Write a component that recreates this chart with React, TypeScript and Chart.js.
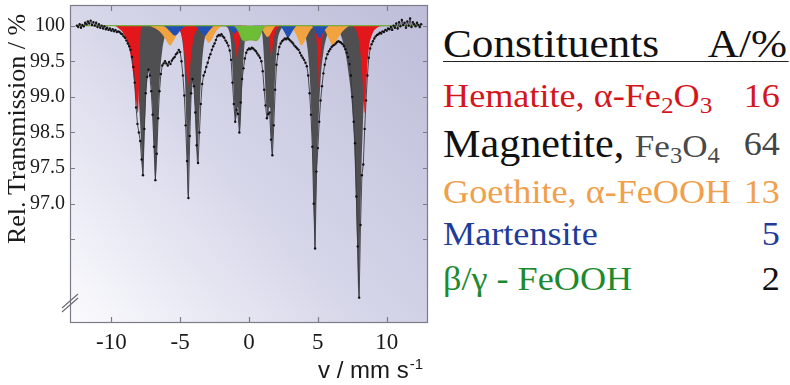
import React, { useEffect, useRef } from "react";
import { Chart, registerables } from "chart.js";

Chart.register(...registerables);

// ---------- axis ticks ----------
const velocityTicks = [-10, -5, 0, 5, 10];
const transmissionTickValues = [100, 99.5, 99, 98.5, 98, 97.5, 97];
const transmissionTickLabels = ["100", "99.5", "99.0", "98.5", "97.5", "97.0", ""];

// ---------- measured spectrum [v (mm/s), rel. transmission (%)] ----------
const measured: [number, number][] = [
  [-12.5,100.00],[-12.4,99.98],[-12.3,100.02],[-12.2,99.97],[-12.1,100.01],[-12.0,99.99],[-11.9,100.04],[-11.8,100.02],[-11.7,100.06],[-11.6,100.03],[-11.5,100.07],[-11.4,100.01],[-11.3,100.05],[-11.2,100.00],[-11.1,100.04],[-11.0,99.98],[-10.9,100.02],[-10.8,99.97],[-10.7,100.00],[-10.6,99.96],[-10.5,99.99],[-10.4,99.95],[-10.3,99.97],[-10.2,99.94],[-10.1,99.96],[-10.0,99.93],[-9.9,99.95],[-9.8,99.92],[-9.7,99.94],[-9.6,99.91],[-9.5,99.92],
  [-9.4,99.91],[-9.3,99.89],[-9.2,99.88],[-9.1,99.85],[-9.0,99.83],[-8.9,99.79],[-8.8,99.75],[-8.7,99.71],[-8.6,99.66],[-8.5,99.56],[-8.4,99.42],[-8.3,99.20],[-8.2,98.85],[-8.1,98.62],[-8.0,98.50],[-7.9,98.38],[-7.8,98.12],[-7.7,97.90],[-7.6,98.55],[-7.5,99.05],[-7.4,99.28],[-7.3,99.38],[-7.2,99.30],[-7.1,99.08],[-7.0,98.75],[-6.9,98.30],[-6.8,97.83],[-6.7,98.20],[-6.6,98.70],[-6.5,99.08],[-6.4,99.32],[-6.3,99.44],[-6.2,99.47],
  [-6.1,99.50],[-6.0,99.47],[-5.9,99.44],[-5.8,99.49],[-5.7,99.46],[-5.6,99.51],[-5.5,99.54],[-5.4,99.56],[-5.3,99.60],[-5.2,99.62],[-5.1,99.66],[-5.0,99.63],[-4.9,99.50],[-4.8,99.30],
  [-4.7,99.02],[-4.6,98.60],[-4.5,98.10],[-4.4,97.58],[-4.3,98.45],[-4.2,99.05],[-4.1,99.25],[-4.0,99.15],[-3.9,98.78],[-3.8,98.32],[-3.7,98.07],[-3.6,98.50],[-3.5,98.90],[-3.4,99.18],[-3.3,99.30],
  [-3.2,99.35],[-3.1,99.42],[-3.0,99.48],[-2.9,99.55],[-2.8,99.60],[-2.7,99.66],[-2.6,99.71],[-2.5,99.75],[-2.4,99.80],[-2.3,99.85],[-2.2,99.87],[-2.1,99.86],[-2.0,99.88],[-1.9,99.85],[-1.8,99.83],[-1.7,99.79],[-1.6,99.76],[-1.5,99.72],[-1.4,99.65],
  [-1.3,99.52],[-1.2,99.20],[-1.1,98.90],[-1.0,98.65],[-0.9,98.82],[-0.8,98.76],[-0.7,98.50],[-0.6,98.92],[-0.5,99.25],[-0.4,99.40],[-0.3,99.54],[-0.2,99.62],[-0.1,99.66],[0.0,99.68],
  [0.1,99.67],[0.2,99.69],[0.3,99.68],[0.4,99.66],[0.5,99.64],[0.6,99.61],[0.7,99.58],[0.8,99.55],[0.9,99.50],[1.0,99.36],[1.1,99.10],[1.2,98.88],[1.3,98.70],[1.4,98.76],[1.5,98.78],[1.6,98.40],[1.7,98.18],[1.8,98.60],[1.9,99.10],[2.0,99.45],
  [2.1,99.60],[2.2,99.70],[2.3,99.75],[2.4,99.78],[2.5,99.80],[2.6,99.82],[2.7,99.81],[2.8,99.83],[2.9,99.81],[3.0,99.79],[3.1,99.77],[3.2,99.75],[3.3,99.72],[3.4,99.70],[3.5,99.68],[3.6,99.66],[3.7,99.62],[3.8,99.58],[3.9,99.55],[4.0,99.52],
  [4.1,99.48],[4.2,99.43],[4.3,99.30],[4.4,99.05],[4.5,98.75],[4.6,98.30],[4.7,97.50],[4.8,96.87],[4.9,97.95],[5.0,98.28],[5.1,98.65],[5.2,98.95],[5.3,99.15],[5.4,99.33],[5.5,99.45],[5.6,99.54],[5.7,99.60],[5.8,99.64],[5.9,99.67],[6.0,99.70],
  [6.1,99.72],[6.2,99.73],[6.3,99.75],[6.4,99.77],[6.5,99.78],[6.6,99.77],[6.7,99.76],[6.8,99.74],[6.9,99.71],[7.0,99.67],[7.1,99.62],[7.2,99.56],[7.3,99.46],[7.4,99.30],[7.5,99.00],[7.6,98.65],[7.7,98.35],[7.8,97.60],[7.9,96.90],[8.0,96.18],
  [8.1,97.20],[8.2,97.90],[8.3,98.05],[8.4,98.55],[8.5,98.95],[8.6,99.30],[8.7,99.55],[8.8,99.68],[8.9,99.74],[9.0,99.78],[9.1,99.82],[9.2,99.85],[9.3,99.87],
  [9.4,99.88],[9.5,99.90],[9.6,99.89],[9.7,99.92],[9.8,99.91],[9.9,99.94],[10.0,99.93],[10.1,99.96],[10.2,99.95],[10.3,99.98],[10.4,99.94],[10.5,100.00],[10.6,99.97],[10.7,100.03],[10.8,99.96],[10.9,100.05],[11.0,99.99],[11.1,100.08],[11.2,100.01],[11.3,100.04],[11.4,99.97],[11.5,100.06],[11.6,100.00],[11.7,100.10],[11.8,99.98],[11.9,100.05],[12.0,100.02],[12.1,99.99],[12.2,100.04],[12.3,100.01],[12.4,99.98],[12.5,100.02],
];

// ---------- sub-spectra ----------
const magnetite: [number, number][] = [
  [-12.5,100],[-9.0,100],[-8.7,99.97],[-8.45,99.85],[-8.25,99.6],[-8.05,99.15],[-7.9,98.6],[-7.78,98.1],[-7.71,97.9],[-7.62,98.3],[-7.52,98.85],[-7.4,99.25],[-7.27,99.38],[-7.13,99.22],[-7.0,98.8],[-6.88,98.2],[-6.79,97.83],[-6.7,98.2],[-6.58,98.85],[-6.45,99.35],[-6.3,99.65],[-6.1,99.85],[-5.8,99.95],[-5.4,99.98],
  [-5.1,99.95],[-4.85,99.8],[-4.68,99.4],[-4.55,98.6],[-4.44,97.58],[-4.33,98.4],[-4.2,99.05],[-4.07,99.22],[-3.93,98.9],[-3.83,98.4],[-3.76,98.07],[-3.68,98.4],[-3.56,98.95],[-3.42,99.45],[-3.25,99.78],[-3.0,99.93],[-2.6,99.98],
  [-1.8,99.99],[-1.45,99.93],[-1.3,99.75],[-1.17,99.3],[-1.05,98.85],[-0.97,98.65],[-0.88,98.82],[-0.8,98.85],[-0.72,98.62],[-0.66,98.5],[-0.59,98.7],[-0.5,99.15],[-0.4,99.55],[-0.28,99.82],[-0.1,99.95],[0.3,99.99],
  [0.8,99.97],[0.98,99.85],[1.1,99.5],[1.22,99.0],[1.3,98.8],[1.38,98.7],[1.46,98.85],[1.53,98.85],[1.6,98.45],[1.67,98.18],[1.74,98.45],[1.83,98.95],[1.93,99.45],[2.05,99.75],[2.25,99.92],[2.7,99.99],
  [3.6,99.98],[3.95,99.92],[4.2,99.75],[4.38,99.4],[4.52,98.8],[4.63,98.1],[4.72,97.3],[4.78,96.87],[4.85,97.35],[4.95,98.1],[5.08,98.8],[5.22,99.3],[5.4,99.62],[5.65,99.85],[6.0,99.95],
  [6.4,99.95],[6.7,99.85],[7.0,99.62],[7.25,99.3],[7.45,98.95],[7.6,98.5],[7.72,97.85],[7.84,97.0],[7.95,96.18],[8.05,96.95],[8.15,97.85],[8.27,98.6],[8.4,99.15],[8.55,99.55],[8.75,99.82],[9.0,99.94],[9.4,99.99],[12.5,100],
];

const hematite: [number, number][] = [
  [-12.5,100],[-9.8,100],[-9.45,99.96],[-9.15,99.9],[-8.85,99.78],[-8.6,99.58],[-8.4,99.3],[-8.22,98.98],[-8.07,98.77],[-7.98,99.2],[-7.92,99.7],[-7.85,99.95],[-7.7,100],
  [-5.4,100],[-5.05,99.95],[-4.82,99.8],[-4.62,99.5],[-4.5,99.25],[-4.43,99.14],[-4.35,99.28],[-4.22,99.55],[-4.02,99.82],[-3.75,99.95],[-3.4,100],
  [-1.6,100],[-1.3,99.95],[-1.1,99.83],[-0.97,99.68],[-0.87,99.54],[-0.77,99.68],[-0.62,99.85],[-0.4,99.96],[-0.1,100],
  [1.1,100],[1.35,99.93],[1.5,99.78],[1.63,99.54],[1.74,99.75],[1.9,99.9],[2.15,99.98],[2.4,100],
  [4.55,100],[4.8,99.93],[4.95,99.7],[5.03,99.4],[5.09,99.1],[5.16,99.42],[5.26,99.72],[5.42,99.9],[5.7,99.98],[6.0,100],
  [7.4,100],[7.7,99.96],[7.92,99.85],[8.1,99.6],[8.24,99.25],[8.34,98.95],[8.41,98.77],[8.48,99.0],[8.58,99.4],[8.72,99.7],[8.95,99.88],[9.3,99.97],[9.7,100],[12.5,100],
];

const goethite: [number, number][] = [
  [-12.5,100],[-7.3,100],[-6.9,99.97],[-6.5,99.92],[-6.2,99.85],[-5.95,99.77],[-5.72,99.72],[-5.5,99.78],[-5.25,99.87],[-4.95,99.95],[-4.6,99.99],
  [-3.9,100],[-3.6,99.96],[-3.35,99.9],[-3.12,99.81],[-2.92,99.76],[-2.7,99.81],[-2.45,99.9],[-2.15,99.97],[-1.8,100],
  [-1.0,100],[-0.8,99.96],[-0.65,99.9],[-0.55,99.87],[-0.45,99.9],[-0.3,99.96],[-0.1,100],
  [0.7,100],[0.95,99.95],[1.15,99.88],[1.35,99.84],[1.55,99.88],[1.75,99.95],[2.0,100],
  [2.9,100],[3.2,99.95],[3.45,99.86],[3.65,99.77],[3.81,99.72],[4.0,99.77],[4.25,99.87],[4.55,99.96],[4.9,100],
  [5.2,100],[5.5,99.94],[5.75,99.84],[5.95,99.75],[6.08,99.72],[6.3,99.77],[6.6,99.87],[6.95,99.95],[7.4,100],[12.5,100],
];

const martensite: [number, number][] = [
  [-12.5,100],[-6.3,100],[-6.0,99.97],[-5.75,99.92],[-5.55,99.88],[-5.4,99.86],[-5.2,99.88],[-5.0,99.93],[-4.7,99.98],[-4.4,100],
  [-4.0,100],[-3.7,99.96],[-3.45,99.9],[-3.22,99.85],[-3.0,99.9],[-2.75,99.96],[-2.5,100],
  [-1.6,100],[-1.4,99.96],[-1.22,99.91],[-1.05,99.89],[-0.9,99.92],[-0.7,99.97],[-0.5,100],
  [0.3,100],[0.5,99.96],[0.7,99.92],[0.9,99.95],[1.1,100],
  [2.2,100],[2.45,99.95],[2.68,99.87],[2.84,99.83],[3.0,99.87],[3.25,99.95],[3.5,100],
  [4.5,100],[4.75,99.95],[4.95,99.87],[5.12,99.82],[5.3,99.87],[5.55,99.95],[5.85,100],[12.5,100],
];

const betaGammaFeOOH: [number, number][] = [
  [-12.5,100],[-1.1,100],[-0.9,99.97],[-0.7,99.9],[-0.5,99.81],[-0.3,99.79],[0.0,99.8],[0.25,99.8],[0.5,99.79],[0.7,99.82],[0.9,99.92],[1.1,99.98],[1.3,100],[12.5,100],
];

// ---------- legend table ----------
const constituentAreas = [16, 64, 13, 5, 2];

const SERIF = '"Liberation Serif", "Times New Roman", serif';
const SANS = '"Liberation Sans", Arial, sans-serif';

const framePlugin = {
  id: "frame",
  beforeDraw(chart: any) {
    const { ctx, chartArea: a } = chart;
    const g = ctx.createLinearGradient(a.left, a.bottom, a.right, a.top);
    g.addColorStop(0, "#fbfbfe");
    g.addColorStop(0.45, "#d7d7ea");
    g.addColorStop(1, "#bdbdd9");
    ctx.save();
    ctx.fillStyle = g;
    ctx.fillRect(a.left, a.top, a.right - a.left, a.bottom - a.top);
    ctx.restore();
  },
  afterDatasetsDraw(chart: any) {
    const { ctx, chartArea: a, scales } = chart;
    ctx.save();
    ctx.strokeStyle = "#7c7c88";
    ctx.lineWidth = 1.2;
    ctx.strokeRect(a.left + 0.5, a.top + 0.5, a.right - a.left - 1, a.bottom - a.top - 1);
    ctx.beginPath();
    for (const v of velocityTicks) {
      const px = Math.round(scales.x.getPixelForValue(v)) + 0.5;
      ctx.moveTo(px, a.bottom);
      ctx.lineTo(px, a.bottom - 6);
      ctx.moveTo(px, a.top);
      ctx.lineTo(px, a.top + 6);
    }
    for (const v of transmissionTickValues) {
      const py = Math.round(scales.y.getPixelForValue(v)) + 0.5;
      ctx.moveTo(a.left, py);
      ctx.lineTo(a.left + 5, py);
      ctx.moveTo(a.right, py);
      ctx.lineTo(a.right - 5, py);
    }
    ctx.stroke();
    // axis break "//"
    ctx.strokeStyle = "#6a6a74";
    ctx.lineWidth = 1.1;
    ctx.beginPath();
    ctx.moveTo(a.left - 8, a.bottom - 15);
    ctx.lineTo(a.left + 8, a.bottom - 29);
    ctx.moveTo(a.left - 8, a.bottom - 11);
    ctx.lineTo(a.left + 8, a.bottom - 25);
    ctx.stroke();
    ctx.restore();
  },
  afterDraw(chart: any) {
    const { ctx } = chart;
    ctx.save();
    ctx.fillStyle = "#1a1a1a";
    ctx.font = `26px ${SERIF}`;
    ctx.translate(25, 129);
    ctx.rotate(-Math.PI / 2);
    ctx.textAlign = "center";
    ctx.textBaseline = "alphabetic";
    ctx.fillText("Rel. Transmission / %", 0, 0);
    ctx.restore();

    ctx.save();
    ctx.fillStyle = "#1a1a1a";
    ctx.textBaseline = "alphabetic";
    ctx.textAlign = "left";
    const main = "v / mm s";
    const sup = "-1";
    ctx.font = `24px ${SANS}`;
    const w1 = ctx.measureText(main).width;
    ctx.font = `15px ${SANS}`;
    const w2 = ctx.measureText(sup).width;
    const x0 = 423 - w1 - w2 - 1;
    ctx.font = `24px ${SANS}`;
    ctx.fillText(main, x0, 378);
    ctx.font = `15px ${SANS}`;
    ctx.fillText(sup, x0 + w1 + 1, 369);
    ctx.restore();
  },
};

function componentDataset(data: [number, number][], color: string, order: number, border = 0, borderColor = "transparent") {
  return {
    data,
    parsing: true,
    showLine: true,
    backgroundColor: color,
    borderColor,
    borderWidth: border,
    pointRadius: 0,
    fill: { value: 100 },
    cubicInterpolationMode: "monotone" as const,
    order,
  };
}

function SpectrumChart() {
  const ref = useRef<HTMLCanvasElement | null>(null);
  useEffect(() => {
    if (!ref.current) return;
    const chart = new Chart(ref.current, {
      type: "line",
      data: {
        datasets: [
          {
            data: measured,
            showLine: true,
            borderColor: "#3a3a44",
            borderWidth: 0.9,
            pointRadius: 1.2,
            pointBackgroundColor: "#111",
            pointBorderWidth: 0,
            fill: false,
            tension: 0,
            order: 0,
          } as any,
          componentDataset(betaGammaFeOOH, "#6dbd36", 1, 1.3, "#78ad3c"),
          componentDataset(martensite, "#2150b4", 2),
          componentDataset(goethite, "#f2a23e", 3),
          componentDataset(hematite, "#e3161c", 4),
          componentDataset(magnetite, "#4f4f52", 5),
        ],
      },
      options: {
        responsive: false,
        maintainAspectRatio: false,
        animation: false,
        layout: { padding: { left: 8, right: 12, top: 5, bottom: 0 } },
        plugins: { legend: { display: false }, tooltip: { enabled: false } },
        scales: {
          x: {
            type: "linear",
            min: -13,
            max: 13,
            afterBuildTicks: (s: any) => {
              s.ticks = velocityTicks.map((v) => ({ value: v }));
            },
            afterFit: (s: any) => {
              s.height = 62;
              s.paddingLeft = 0;
              s.paddingRight = 0;
            },
            grid: { display: false, drawTicks: false },
            border: { display: false },
            ticks: {
              color: "#1a1a1a",
              font: { family: SERIF, size: 23 },
              padding: 6,
              maxRotation: 0,
              autoSkip: false,
              callback: (v: any) => String(v),
            },
          },
          y: {
            type: "linear",
            min: 95.824,
            max: 100.29,
            afterBuildTicks: (s: any) => {
              s.ticks = transmissionTickValues.map((v) => ({ value: v }));
            },
            afterFit: (s: any) => {
              s.width = 62;
              s.paddingTop = 0;
              s.paddingBottom = 0;
            },
            grid: { display: false, drawTicks: false },
            border: { display: false },
            ticks: {
              color: "#1a1a1a",
              font: { family: SERIF, size: 20 },
              padding: 5,
              autoSkip: false,
              callback: (_v: any, i: number) => transmissionTickLabels[i],
            },
          },
        },
      },
      plugins: [framePlugin],
    });
    return () => chart.destroy();
  }, []);
  return <canvas ref={ref} width={440} height={385} style={{ position: "absolute", left: 0, top: 0 }} />;
}

function Row({ top, fs, children }: { top: number; fs: number; children: React.ReactNode }) {
  return (
    <div style={{ position: "absolute", left: 0, right: 0, top: top - 0.8375 * fs, fontSize: fs, lineHeight: `${fs}px`, whiteSpace: "nowrap" }}>
      {children}
    </div>
  );
}

const sub: React.CSSProperties = { fontSize: "0.7em", verticalAlign: "-0.25em" };
const num = (color: string): React.CSSProperties => ({ position: "absolute", right: 8, color });

function Legend() {
  const S = 1.08;
  const W = 320;
  return (
    <div style={{ position: "absolute", left: 443, top: 0, width: W, height: 385, transform: `scaleX(${S})`, transformOrigin: "0 0", fontFamily: SERIF }}>
      <Row top={57} fs={40}>
        <span style={{ color: "#111" }}>Constituents</span>
        <span style={{ position: "absolute", right: 1.5, color: "#111" }}>A/%</span>
      </Row>
      <div style={{ position: "absolute", left: 0, width: W, top: 61, borderTop: "1.5px solid #222" }} />
      <Row top={107} fs={33.5}>
        <span style={{ color: "#d4161c" }}>Hematite, α-Fe<span style={sub}>2</span>O<span style={sub}>3</span></span>
        <span style={num("#d4161c")}>{constituentAreas[0]}</span>
      </Row>
      <Row top={157} fs={39}>
        <span style={{ color: "#111" }}>Magnetite, </span>
        <span style={{ color: "#4a4a4a", fontSize: 32.5 }}>Fe<span style={sub}>3</span>O<span style={sub}>4</span></span>
        <span style={{ ...num("#444"), fontSize: 33.5 }}>{constituentAreas[1]}</span>
      </Row>
      <Row top={203} fs={33.5}>
        <span style={{ color: "#f0a04b" }}>Goethite, α-FeOOH</span>
        <span style={num("#f0a04b")}>{constituentAreas[2]}</span>
      </Row>
      <Row top={245} fs={33.5}>
        <span style={{ color: "#1f3c98" }}>Martensite</span>
        <span style={num("#1f3c98")}>{constituentAreas[3]}</span>
      </Row>
      <Row top={290} fs={33.5}>
        <span style={{ color: "#1e8a30" }}>β/γ - FeOOH</span>
        <span style={num("#111")}>{constituentAreas[4]}</span>
      </Row>
    </div>
  );
}

export default function App() {
  return (
    <div style={{ position: "absolute", left: 0, top: 0, width: 790, height: 385, background: "#fff", overflow: "hidden" }}>
      <SpectrumChart />
      <Legend />
    </div>
  );
}
